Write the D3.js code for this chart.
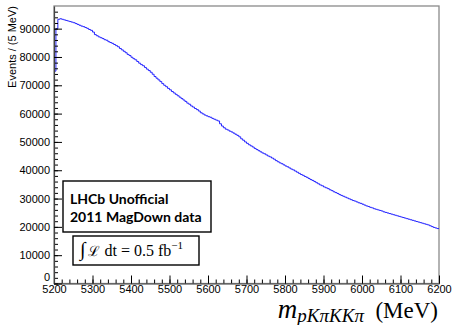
<!DOCTYPE html>
<html>
<head>
<meta charset="utf-8">
<script src="https://cdn.jsdelivr.net/npm/d3@7"></script>
<style>
  body { margin: 0; background: #fff; }
  svg { display: block; }
  .tick text { font-family: "Liberation Sans", Arial, sans-serif; font-size: 11px; fill: #000; }
  .tick line { stroke: #000; }
</style>
</head>
<body>
<svg id="hist" width="452" height="325"></svg>
<script>
// binning: 5 MeV bins from 5200 to 6200
const binLow = 5200;
const binWidth = 5;

// events per bin
const counts = [
    75000, 90000, 93300, 93500, 93300, 93100, 92900, 92700, 92500, 92300,
    92100, 91800, 91500, 91200, 90900, 90700, 90400, 90100, 89700, 89400,
    88800, 87900, 87500, 87100, 86800, 86500, 86100, 85900, 85400, 85100,
    84800, 84400, 84000, 83600, 83000, 82500, 82000, 81500, 80900, 80500,
    79900, 79400, 79000, 78400, 77800, 77300, 76900, 76300, 75700, 75200,
    74600, 73900, 73100, 72500, 71900, 71300, 70600, 70000, 69500, 68900,
    68400, 67800, 67300, 66800, 66300, 65800, 65300, 64800, 64300, 63700,
    63300, 62700, 62300, 61800, 61400, 60900, 60300, 59900, 59500, 59200,
    58900, 58700, 58300, 58000, 57700, 57400, 56400, 55600, 55000, 54500,
    54200, 53800, 53500, 53100, 52700, 52300, 51800, 51100, 50600, 50000,
    49500, 49000, 48600, 48200, 47700, 47300, 46900, 46500, 46100, 45800,
    45400, 45000, 44700, 44300, 43900, 43400, 43000, 42600, 42300, 41900,
    41500, 41200, 40800, 40400, 40100, 39700, 39300, 38900, 38500, 38200,
    37800, 37500, 37100, 36700, 36400, 36000, 35600, 35200, 34800, 34500,
    34100, 33800, 33500, 33100, 32800, 32400, 32100, 31800, 31400, 31100,
    30800, 30500, 30200, 29900, 29600, 29300, 29100, 28800, 28500, 28300,
    28000, 27700, 27400, 27200, 26900, 26700, 26400, 26200, 26000, 25800,
    25600, 25300, 25100, 24900, 24700, 24500, 24300, 24100, 23900, 23700,
    23500, 23300, 23100, 22900, 22700, 22500, 22300, 22100, 21900, 21700,
    21500, 21300, 21100, 20900, 20700, 20400, 20100, 19800, 19600, 19400
];

const xDomain = [5200, 6200];
const yDomain = [0, 98000];
const xMajorTicks = [5200, 5300, 5400, 5500, 5600, 5700, 5800, 5900, 6000, 6100, 6200];
const yMajorTicks = [0, 10000, 20000, 30000, 40000, 50000, 60000, 70000, 80000, 90000];

const yTitle = "Events / (5 MeV)";
const labelLines = ["LHCb Unofficial", "2011 MagDown data"];

const svg = d3.select("svg#hist");
const frame = { left: 54, right: 439, top: 6, bottom: 283.5 };

const x = d3.scaleLinear().domain(xDomain).range([frame.left, frame.right]);
const y = d3.scaleLinear().domain(yDomain).range([frame.bottom, frame.top]);

// frame box
svg.append("rect")
    .attr("x", frame.left)
    .attr("y", frame.top)
    .attr("width", frame.right - frame.left)
    .attr("height", frame.bottom - frame.top)
    .attr("fill", "none")
    .attr("stroke", "#8a8a8a")
    .attr("stroke-width", 1.3);

// histogram as a step line
const pts = counts.map((c, i) => [binLow + i * binWidth, c]);
pts.push([binLow + counts.length * binWidth, counts[counts.length - 1]]);
const step = d3.line()
    .x(d => x(d[0]))
    .y(d => y(d[1]))
    .curve(d3.curveStepAfter);
svg.append("path")
    .datum(pts)
    .attr("fill", "none")
    .attr("stroke", "#2424ff")
    .attr("stroke-width", 1)
    .attr("d", step);

// x axis, ticks pointing into the frame
const xMinor = d3.range(5200, 6201, 20);
svg.append("g")
    .attr("transform", `translate(0,${frame.bottom})`)
    .call(d3.axisBottom(x).tickValues(xMinor).tickSize(-4).tickFormat(""))
    .call(g => g.select(".domain").remove());
svg.append("g")
    .attr("transform", `translate(0,${frame.bottom})`)
    .call(d3.axisBottom(x).tickValues(xMajorTicks).tickSizeInner(-8).tickSizeOuter(0)
        .tickPadding(2).tickFormat(d3.format("d")))
    .call(g => g.select(".domain").attr("stroke", "#444").attr("stroke-width", 1.2));

// y axis
const yMinor = d3.range(0, 98000, 2000);
svg.append("g")
    .attr("transform", `translate(${frame.left},0)`)
    .call(d3.axisLeft(y).tickValues(yMinor).tickSize(-4).tickFormat(""))
    .call(g => g.select(".domain").remove());
svg.append("g")
    .attr("transform", `translate(${frame.left},0)`)
    .call(d3.axisLeft(y).tickValues(yMajorTicks).tickSizeInner(-8).tickSizeOuter(0)
        .tickPadding(4).tickFormat(d3.format("d")))
    .call(g => g.select(".domain").attr("stroke", "#444").attr("stroke-width", 1.2))
    .call(g => g.selectAll(".tick text").filter(d => d === 0).attr("dy", "-0.3em"));

// y title
svg.append("text")
    .attr("transform", `translate(16,${frame.top}) rotate(-90)`)
    .attr("text-anchor", "end")
    .style("font-family", "Liberation Sans, Arial, sans-serif")
    .style("font-size", "11px")
    .text(yTitle);

// x title  m_{pKpiKKpi} (MeV)
const xt = svg.append("text")
    .attr("x", 438)
    .attr("y", 318)
    .attr("text-anchor", "end")
    .style("font-family", "Liberation Serif, serif");
xt.append("tspan").style("font-style", "italic").style("font-size", "27px").text("m");
xt.append("tspan").style("font-style", "italic").style("font-size", "19px")
    .attr("dy", 4).text("pKπKKπ");
xt.append("tspan").style("font-size", "23px").attr("dy", -4).text("\u2002(MeV)");

// label box
svg.append("rect")
    .attr("x", 63).attr("y", 181)
    .attr("width", 148).attr("height", 51)
    .attr("fill", "#fff").attr("stroke", "#000").attr("stroke-width", 1.4);
svg.selectAll("text.lhcb")
    .data(labelLines)
    .join("text")
    .attr("class", "lhcb")
    .attr("x", 70)
    .attr("y", (d, i) => 204 + i * 18)
    .style("font-family", "Lato, Open Sans, sans-serif")
    .style("font-weight", "bold")
    .style("font-size", "14px")
    .text(d => d);

// luminosity box
svg.append("rect")
    .attr("x", 73).attr("y", 236)
    .attr("width", 126).attr("height", 29)
    .attr("fill", "#fff").attr("stroke", "#000").attr("stroke-width", 1.4);
const lumi = svg.append("text")
    .attr("x", 80).attr("y", 256)
    .style("font-family", "Liberation Serif, serif")
    .style("font-size", "16px");
lumi.append("tspan").style("font-size", "20px").text("\u222B");
lumi.append("tspan").attr("dx", 3).style("font-family", "DejaVu Serif, serif").style("font-size", "14px").text("\u2112");
lumi.append("tspan").text(" dt = 0.5 fb");
lumi.append("tspan").attr("dy", -7).style("font-size", "11px").text("\u22121");
</script>
</body>
</html>
